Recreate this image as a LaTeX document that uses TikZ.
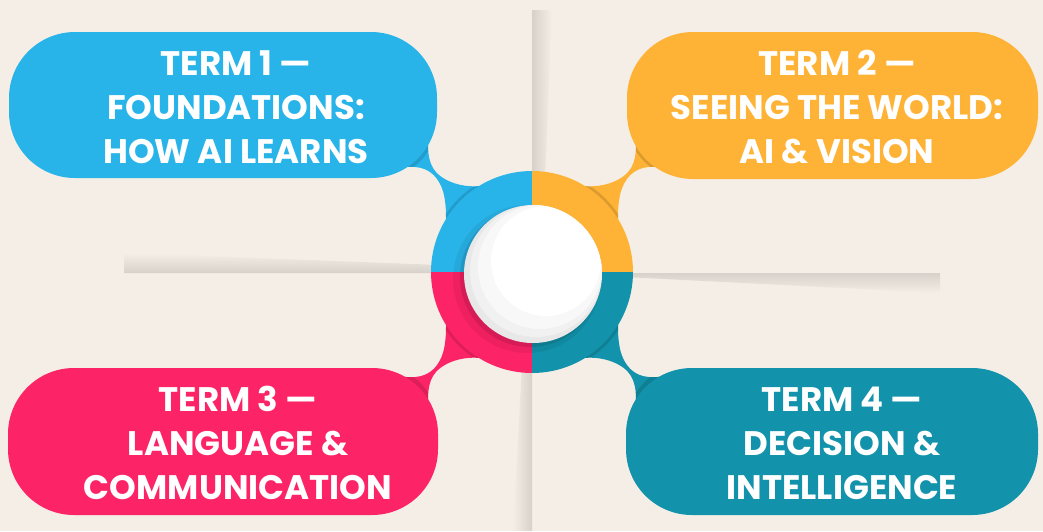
\documentclass[tikz,border=0pt]{standalone}
\usepackage{fontspec}
\newfontfamily\termfont{Poppins}
\definecolor{bgbeige}{HTML}{F5EEE6}
\definecolor{folddark}{HTML}{D6D1CA}
\definecolor{termblue}{HTML}{28B4E9}
\definecolor{termorange}{HTML}{FEB337}
\definecolor{termpink}{HTML}{FD2367}
\definecolor{termteal}{HTML}{1292AB}
\definecolor{discgrey}{HTML}{E8E8E8}
\definecolor{discmid}{HTML}{F1F1F1}
\definecolor{disclight}{HTML}{F8F8F8}
% neck joining a pill to the central ring, drawn for the upper-left corner
% in coordinates relative to the ring centre
\newcommand\necklink{(-160,-99) .. controls (-137,-103) and (-127,-106) .. (-117,-105)
  .. controls (-102,-104) and (-92,-94) .. (-88,-77)
  .. controls (-86,-67) and (-86,-60) .. (-86,-52) -- (-52,-42) -- (-52,-86)
  .. controls (-72,-84) and (-92,-92) .. (-99,-104)
  .. controls (-105,-114) and (-106,-132) .. (-99,-152) -- (-132,-142) -- cycle}
\newcommand\neckpiece[1]{%
  \fill[#1] \necklink;
  \begin{scope}
    \clip \necklink;
    \fill[black,opacity=.13,rounded corners=66pt] (-521,-238) rectangle (-93,-91);
    \fill[black,opacity=.13] (-2,-2) circle (101);
  \end{scope}}
\begin{document}
\begin{tikzpicture}[x=1pt,y=-1pt,
  termtext/.style={text=white, font=\termfont\bfseries\fontsize{34}{44}\selectfont,
    align=center, inner sep=0pt},
  pill/.style={rounded corners=66pt}]
\fill[bgbeige] (0,0) rectangle (1043,531);
\useasboundingbox (0,0) rectangle (1043,531);

% paper folds behind the hub
\shade[left color=folddark, right color=bgbeige] (532,10) -- (552,10) -- (545,180) -- (532,180) -- cycle;
\shade[left color=bgbeige, right color=folddark] (513,531) -- (532,531) -- (532,365) -- (522,365) -- cycle;
\shade[top color=bgbeige, bottom color=folddark] (124,253) -- (440,265) -- (440,273) -- (124,273) -- cycle;
\shade[top color=folddark, bottom color=bgbeige] (625,273) -- (940,273) -- (940,293) -- (625,277) -- cycle;

% necks
\begin{scope}[shift={(532,272)}]\neckpiece{termblue}\end{scope}
\begin{scope}[shift={(532,272)},xscale=-1]\neckpiece{termorange}\end{scope}
\begin{scope}[shift={(532,272)},yscale=-1]\neckpiece{termpink}\end{scope}
\begin{scope}[shift={(532,272)},scale=-1]\neckpiece{termteal}\end{scope}

% pills
\fill[termblue,pill] (9,32) rectangle (437,178);
\fill[termorange,pill] (627,32) rectangle (1038,179);
\fill[termpink,pill] (8,368) rectangle (438,515);
\fill[termteal,pill] (626,368) rectangle (1038,515);

% ring
\begin{scope}
  \clip (532,272) circle (101);
  \fill[termblue] (532,272) rectangle (420,160);
  \fill[termorange] (532,272) rectangle (640,160);
  \fill[termpink] (532,272) rectangle (420,380);
  \fill[termteal] (532,272) rectangle (640,380);
\end{scope}

% central disc
\fill[black,opacity=.06] (527,279) circle (74);
\fill[black,opacity=.10] (530,277) circle (70);
\fill[discgrey] (533,274) circle (69);
\begin{scope}
  \clip (533,274) circle (69);
  \fill[discmid] (536,271) circle (66);
  \fill[disclight] (540,267) circle (62);
  \fill[white] (546,261) circle (55);
\end{scope}

% labels
\node[termtext] (t1) at (236,107) {TERM 1 —\\FOUNDATIONS:\\HOW AI LEARNS};
\node[termtext] (t2) at (837,107) {TERM 2 —\\SEEING THE WORLD:\\AI \& VISION};
\node[termtext] (t3) at (238,443) {TERM 3 —\\LANGUAGE \&\\COMMUNICATION};
\node[termtext] (t4) at (842,443) {TERM 4 —\\DECISION \&\\INTELLIGENCE};
\end{tikzpicture}
\end{document}
